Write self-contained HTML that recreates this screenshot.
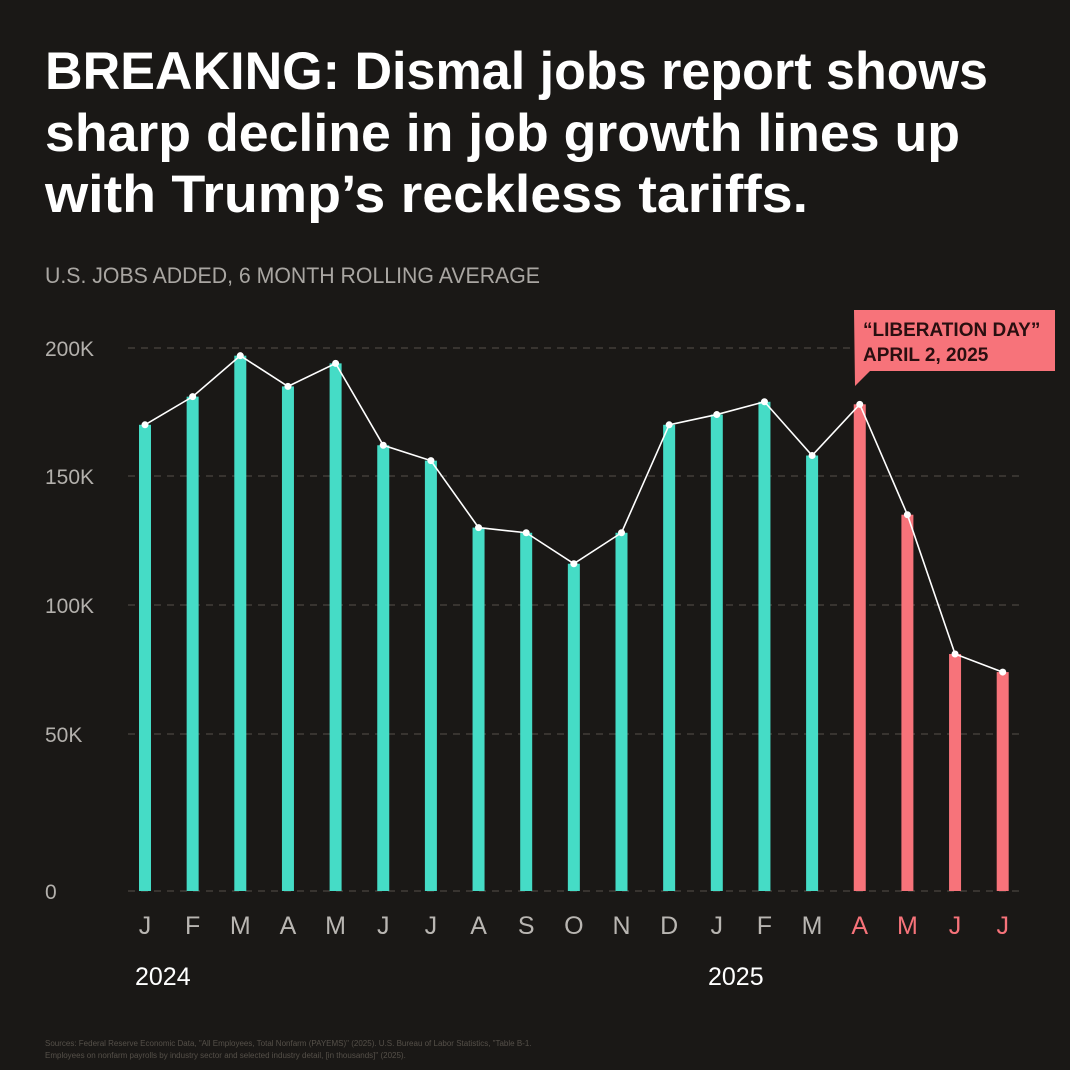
<!DOCTYPE html>
<html><head><meta charset="utf-8"><style>
html,body{margin:0;padding:0;background:#1a1816;}
svg{display:block;font-family:"Liberation Sans",sans-serif;}
</style></head><body>
<svg id="chart" width="1070" height="1070" viewBox="0 0 1070 1070">
<rect width="1070" height="1070" fill="#1a1816"/>
<g fill="#ffffff" font-weight="bold" font-size="53">
<text x="45" y="89" textLength="943" lengthAdjust="spacingAndGlyphs">BREAKING: Dismal jobs report shows</text>
<text x="45" y="151" textLength="915" lengthAdjust="spacingAndGlyphs">sharp decline in job growth lines up</text>
<text x="45" y="212" textLength="763" lengthAdjust="spacingAndGlyphs">with Trump’s reckless tariffs.</text>
</g>
<text x="45" y="283" fill="#a9a6a2" font-size="22" textLength="495" lengthAdjust="spacingAndGlyphs">U.S. JOBS ADDED, 6 MONTH ROLLING AVERAGE</text>
<g id="grid"></g><g id="bars"></g><g id="line"></g><g id="xlabels"></g>
<text x="135" y="985" fill="#ffffff" font-size="25">2024</text>
<text x="708" y="985" fill="#ffffff" font-size="25">2025</text>
<g>
<path d="M854 310 H1055 V371 H870 L855 386 Z" fill="#f7737a"/>
<text x="863" y="336" fill="#2a0f10" font-size="19" font-weight="bold">“LIBERATION DAY”</text>
<text x="863" y="361" fill="#2a0f10" font-size="19" font-weight="bold">APRIL 2, 2025</text>
</g>
<g fill="#555049" font-size="8">
<text x="45" y="1046">Sources: Federal Reserve Economic Data, "All Employees, Total Nonfarm (PAYEMS)" (2025). U.S. Bureau of Labor Statistics, "Table B-1.</text>
<text x="45" y="1058">Employees on nonfarm payrolls by industry sector and selected industry detail, [in thousands]" (2025).</text>
</g>
</svg>
<script>
const months = ["J","F","M","A","M","J","J","A","S","O","N","D","J","F","M","A","M","J","J"];
const values = [170,181,197,185,194,162,156,130,128,116,128,170,174,179,158,178,135,81,74];
const highlighted = [false,false,false,false,false,false,false,false,false,false,false,false,false,false,false,true,true,true,true];
const tickValues = [0,50,100,150,200];
const tickLabels = ["0","50K","100K","150K","200K"];
const NS="http://www.w3.org/2000/svg";
const gridPx=[891,734,605,476,348];
function y(v){for(let i=0;i<tickValues.length-1;i++){if(v<=tickValues[i+1]||i===tickValues.length-2){const t=(v-tickValues[i])/(tickValues[i+1]-tickValues[i]);return gridPx[i]+t*(gridPx[i+1]-gridPx[i]);}}}
function x(i){return 145+i*47.65;}
function mk(tag,attrs,parent){const e=document.createElementNS(NS,tag);for(const k in attrs)e.setAttribute(k,attrs[k]);parent.appendChild(e);return e;}
const grid=document.getElementById('grid');
tickValues.forEach((v,i)=>{
 const l=mk('line',{x1:128,x2:1025,y1:y(v),y2:y(v),stroke:'#4a4641','stroke-width':1.2,'stroke-dasharray':'7 6'},grid);
 
 
 const t=mk('text',{x:45,y:y(v)+8,fill:'#b3b0ac','font-size':21},grid);t.textContent=tickLabels[i];
 
 
});
const bars=document.getElementById('bars'),xl=document.getElementById('xlabels');
values.forEach((v,i)=>{
 const c=highlighted[i]?'#f7737a':'#45dcc6';
 const b=mk('rect',{x:x(i)-6,y:y(v),width:12,height:y(0)-y(v),fill:c},bars);
 
 
 const t=mk('text',{x:x(i),y:934,fill:highlighted[i]?'#f7737a':'#b9b6b2','font-size':25,'text-anchor':'middle'},xl);t.textContent=months[i];
 
 
});
const ln=document.getElementById('line');
const p=mk('polyline',{points:values.map((v,i)=>x(i)+','+y(v)).join(' '),fill:'none',stroke:'#ffffff','stroke-width':1.6},ln);


values.forEach((v,i)=>{const d=mk('circle',{cx:x(i),cy:y(v),r:3.5,fill:'#ffffff'},ln);
 
 });
</script>
</body></html>
